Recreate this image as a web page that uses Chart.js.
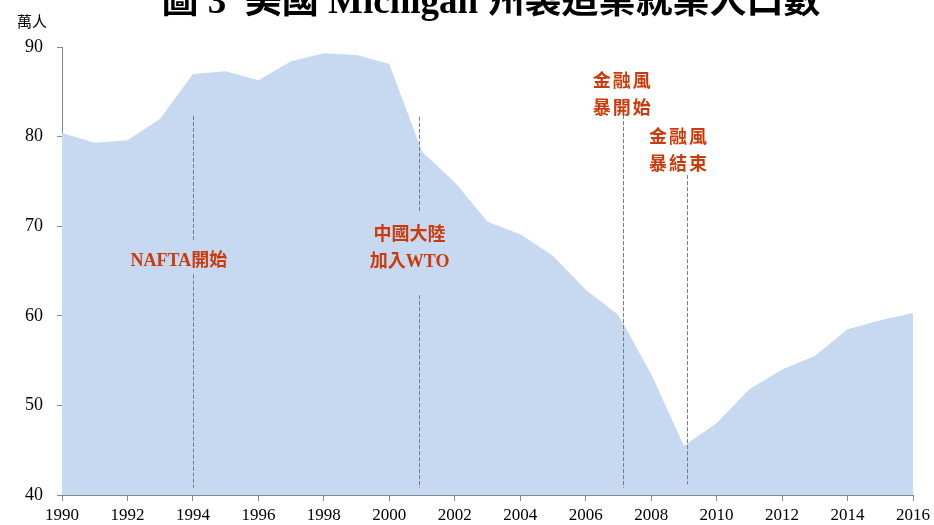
<!DOCTYPE html>
<html>
<head>
<meta charset="utf-8">
<script src="https://cdn.jsdelivr.net/npm/chart.js@4.4.1/dist/chart.umd.min.js"></script>
<style>
  html, body { margin: 0; padding: 0; background: #fff; }
  #wrap { width: 934px; height: 525px; position: relative; }
</style>
</head>
<body>
<div id="wrap"><canvas id="c"></canvas></div>
<script>
const years = [1990, 1991, 1992, 1993, 1994, 1995, 1996, 1997, 1998, 1999, 2000, 2001, 2002,
  2003, 2004, 2005, 2006, 2007, 2008, 2009, 2010, 2011, 2012, 2013, 2014, 2015, 2016]
const workers = [80.4, 79.3, 79.6, 82.0, 87.0, 87.3, 86.3, 88.4, 89.3, 89.1, 88.1, 78.3, 74.9,
  70.5, 69.1, 66.7, 62.9, 60.1, 53.5, 45.5, 48.0, 51.8, 54.0, 55.5, 58.5, 59.5, 60.3]

// events: where the dashed line sits and what it says
const eventYears = [1994, 2000.9, 2007.15, 2009.1]
const eventLines = [
  [[82.3, 68.2], [64.6, 40.8]],
  [[82.2, 71.5], [62.3, 40.8]],
  [[82.4, 40.8]],
  [[75.7, 41.2]]
]
const eventText = [["NAFTA開始"], ["中國大陸", "加入WTO"], ["金融風", "暴開始"], ["金融風", "暴結束"]]
const textYears = [1993.57, 2000.62, 2007.1, 2008.82]
const textTop = [66.1, 69.0, 86.1, 79.8]

const titleText = "圖 3  美國 Michigan 州製造業就業人口數"
const unitText = "萬人"

const axisColor = "#868686"
const redText = "#cc3a0a"

const extras = {
  id: "extras",
  afterDraw(chart) {
    const ctx = chart.ctx
    const x = chart.scales.x
    const y = chart.scales.y
    ctx.save()

    // dashed event lines
    ctx.strokeStyle = "#7a7a7a"
    ctx.lineWidth = 1
    ctx.setLineDash([4, 2])
    eventYears.forEach((yr, i) => {
      const px = Math.round(x.getPixelForValue(yr)) + 0.5
      eventLines[i].forEach(seg => {
        ctx.beginPath()
        ctx.moveTo(px, y.getPixelForValue(seg[0]))
        ctx.lineTo(px, y.getPixelForValue(seg[1]))
        ctx.stroke()
      })
    })
    ctx.setLineDash([])

    // event labels
    ctx.fillStyle = redText
    ctx.font = "bold 18px 'Liberation Serif', 'Noto Sans CJK TC', serif"
    ctx.textAlign = "center"
    ctx.textBaseline = "middle"
    eventText.forEach((lines, i) => {
      const cx = x.getPixelForValue(textYears[i])
      const cy = y.getPixelForValue(textTop[i])
      const spaced = i >= 2
      ctx.letterSpacing = spaced ? "2px" : "0px"
      lines.forEach((t, j) => ctx.fillText(t, cx + (spaced ? 1 : 0), cy + j * 27))
    })
    ctx.letterSpacing = "0px"

    // title (cut at the top edge as in the original) and unit
    ctx.fillStyle = "#000"
    ctx.font = "bold 37px 'Liberation Serif', 'Noto Sans CJK TC', serif"
    ctx.textBaseline = "alphabetic"
    ctx.fillText(titleText, 491, 13)
    ctx.font = "15px 'Noto Sans CJK TC', serif"
    ctx.textAlign = "left"
    ctx.fillText(unitText, 17, 27)

    ctx.restore()
  }
}

const ctx = document.getElementById("c").getContext("2d")
new Chart(ctx, {
  type: "line",
  data: {
    labels: years,
    datasets: [{
      data: years.map((yr, i) => ({x: yr, y: workers[i]})),
      fill: "start",
      backgroundColor: "#c6d9f0",
      borderWidth: 0,
      pointRadius: 0,
      tension: 0
    }]
  },
  options: {
    responsive: true,
    maintainAspectRatio: false,
    animation: false,
    events: [],
    layout: {padding: {top: 47, right: 21, left: 0, bottom: 0}},
    plugins: {legend: {display: false}, tooltip: {enabled: false}},
    scales: {
      x: {
        type: "linear",
        min: 1990,
        max: 2016,
        afterFit(scale) { scale.height = 30 },
        ticks: {
          stepSize: 2,
          autoSkip: false,
          maxRotation: 0,
          padding: 4,
          color: "#000",
          font: {family: "'Liberation Serif', serif", size: 17},
          callback: v => String(v)
        },
        grid: {drawOnChartArea: false, drawTicks: true, tickLength: 6, color: axisColor},
        border: {color: axisColor}
      },
      y: {
        min: 40,
        max: 90,
        afterFit(scale) { scale.width = 62 },
        ticks: {
          stepSize: 10,
          padding: 14,
          color: "#000",
          font: {family: "'Liberation Serif', serif", size: 18}
        },
        grid: {drawOnChartArea: false, drawTicks: true, tickLength: 5, color: axisColor},
        border: {color: axisColor}
      }
    }
  },
  plugins: [extras]
})
</script>
</body>
</html>
